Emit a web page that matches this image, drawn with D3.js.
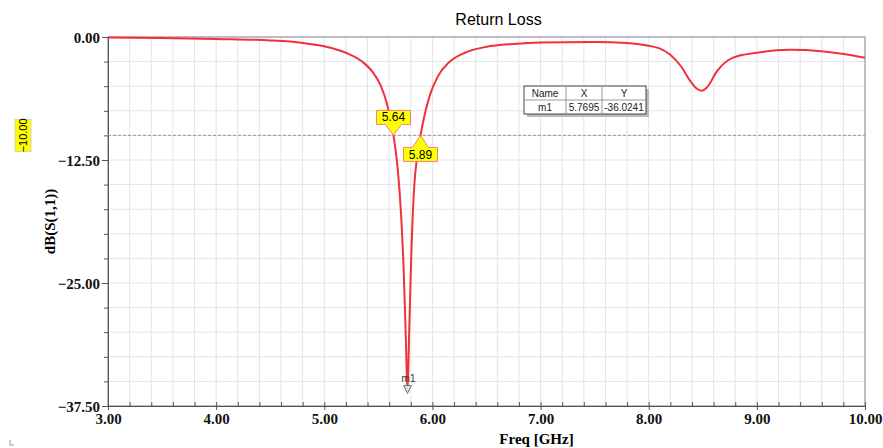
<!DOCTYPE html>
<html>
<head>
<meta charset="utf-8">
<script src="https://cdn.jsdelivr.net/npm/d3@7"></script>
<style>
  body { margin: 0; background: #fff; }
  svg { display: block; }
</style>
</head>
<body>
<div id="chart"></div>
<script>
// S11 trace (GHz, dB)
const freq = [3.0, 3.5, 4.0, 4.5, 4.8, 5.0, 5.2, 5.35, 5.45, 5.52, 5.58, 5.64, 5.68, 5.71, 5.735, 5.755, 5.7695,
  5.785, 5.805, 5.83, 5.86, 5.89, 5.93, 5.98, 6.05, 6.15, 6.3, 6.5, 6.75, 7.0, 7.5, 7.8, 8.0, 8.1, 8.2, 8.3, 8.38,
  8.44, 8.49, 8.54, 8.63, 8.78, 9.0, 9.3, 9.6, 10.0];
const s11 = [-0.05, -0.1, -0.2, -0.35, -0.6, -0.95, -1.6, -2.5, -3.6, -4.9, -6.8, -10.0, -13.5, -18.0, -24.0, -31.0, -36.02,
  -30.0, -22.0, -15.5, -12.0, -10.0, -7.8, -5.8, -4.0, -2.6, -1.6, -1.0, -0.7, -0.55, -0.5, -0.6, -0.9, -1.15, -1.8, -3.0, -4.4,
  -5.2, -5.45, -5.1, -3.5, -2.1, -1.6, -1.3, -1.45, -2.1];
const xTicks = [3, 4, 5, 6, 7, 8, 9, 10];
const yTicks = [0, -12.5, -25, -37.5];
const markerFreq = [5.64, 5.89];
const markerLevel = -10;
const m1 = { name: "m1", x: 5.7695, y: -36.0241 };

const W = 883, H = 448;
const margin = { left: 108, right: 18, top: 37, bottom: 42 };

const svg = d3.select("#chart").append("svg")
  .attr("width", W).attr("height", H);

const x = d3.scaleLinear().domain([3, 10]).range([margin.left, W - margin.right]);
const y = d3.scaleLinear().domain([-37.5, 0]).range([H - margin.bottom, margin.top]);

const serif = "'Liberation Serif', 'Times New Roman', serif";
const sans = "'Liberation Sans', Arial, sans-serif";

// grid
const xMinor = d3.range(3, 10.001, 0.2);
const yMinor = d3.range(-37.5, 0.001, 2.5);
svg.append("g").selectAll("line").data(xMinor).join("line")
  .attr("x1", d => x(d)).attr("x2", d => x(d))
  .attr("y1", y(0)).attr("y2", y(-37.5))
  .attr("stroke", "#e4e4e4").attr("stroke-width", 1);
svg.append("g").selectAll("line").data(yMinor).join("line")
  .attr("x1", x(3)).attr("x2", x(10))
  .attr("y1", d => y(d)).attr("y2", d => y(d))
  .attr("stroke", "#e4e4e4").attr("stroke-width", 1);

// frame
svg.append("rect")
  .attr("x", x(3)).attr("y", y(0))
  .attr("width", x(10) - x(3)).attr("height", y(-37.5) - y(0))
  .attr("fill", "none").attr("stroke", "#8a8a8a").attr("stroke-width", 1);

// axes
const xAxis = svg.append("g")
  .attr("transform", `translate(0,${y(-37.5)})`)
  .call(d3.axisBottom(x).tickValues(xTicks).tickFormat(d3.format(".2f")).tickSize(4).tickPadding(3));
xAxis.selectAll("text").attr("font-family", serif).attr("font-weight", "bold").attr("font-size", 15).attr("fill", "#111");
svg.append("g").attr("transform", `translate(0,${y(-37.5)})`)
  .call(d3.axisBottom(x).tickValues(xMinor).tickFormat("").tickSize(-4))
  .call(g => g.select(".domain").remove());

const yAxis = svg.append("g")
  .attr("transform", `translate(${x(3)},0)`)
  .call(d3.axisLeft(y).tickValues(yTicks).tickFormat(d3.format(".2f")).tickSize(6).tickPadding(2));
yAxis.selectAll("text").attr("font-family", serif).attr("font-weight", "bold").attr("font-size", 15).attr("fill", "#111")
  .attr("dy", "0.35em");
svg.append("g").attr("transform", `translate(${x(3)},0)`)
  .call(d3.axisLeft(y).tickValues(yMinor).tickFormat("").tickSize(4))
  .call(g => g.select(".domain").remove());
svg.selectAll(".domain, .tick line").attr("stroke", "#555");

// axis titles
svg.append("text")
  .attr("x", (x(3) + x(10)) / 2 + 50).attr("y", H - 4)
  .attr("text-anchor", "middle")
  .attr("font-family", serif).attr("font-weight", "bold").attr("font-size", 15)
  .text("Freq [GHz]");
svg.append("text")
  .attr("transform", `translate(55,${y(-18.75)}) rotate(-90)`)
  .attr("text-anchor", "middle")
  .attr("font-family", serif).attr("font-weight", "bold").attr("font-size", 15)
  .text("dB(S(1,1))");
svg.append("text")
  .attr("x", (x(3) + x(10)) / 2 + 12).attr("y", 25)
  .attr("text-anchor", "middle")
  .attr("font-family", sans).attr("font-size", 16)
  .text("Return Loss");

// -10 dB reference line
svg.append("line")
  .attr("x1", x(3)).attr("x2", x(10))
  .attr("y1", y(markerLevel)).attr("y2", y(markerLevel))
  .attr("stroke", "#999").attr("stroke-dasharray", "3,2");
const refLbl = svg.append("g").attr("transform", `translate(23,${y(markerLevel)}) rotate(-90)`);
refLbl.append("rect").attr("x", -16).attr("y", -8).attr("width", 32).attr("height", 16)
  .attr("fill", "#ffff00").attr("stroke", "#d8d8a0");
refLbl.append("text").attr("text-anchor", "middle").attr("dy", "0.35em")
  .attr("font-family", sans).attr("font-size", 11).text(d3.format(".2f")(markerLevel));

// trace
const pts = freq.map((f, i) => [f, s11[i]]);
svg.append("path")
  .datum(pts)
  .attr("fill", "none")
  .attr("stroke", "#f0313a")
  .attr("stroke-width", 2)
  .attr("d", d3.line().x(d => x(d[0])).y(d => y(d[1])).curve(d3.curveMonotoneX));

// marker flags at -10 dB
markerFreq.forEach((f, i) => {
  const px = x(f), py = y(markerLevel);
  const g = svg.append("g");
  if (i === 0) {
    g.append("path")
      .attr("d", `M${px - 17},${py - 25} H${px + 17} V${py - 11} H${px + 8} L${px},${py} L${px - 8},${py - 11} H${px - 17} Z`)
      .attr("fill", "#ffff00").attr("stroke", "#f08080").attr("stroke-width", 1);
    g.append("text").attr("x", px).attr("y", py - 14).attr("text-anchor", "middle")
      .attr("font-family", sans).attr("font-size", 12).text(f.toFixed(2));
  } else {
    g.append("path")
      .attr("d", `M${px - 17},${py + 26} H${px + 17} V${py + 12} H${px + 8} L${px},${py} L${px - 8},${py + 12} H${px - 17} Z`)
      .attr("fill", "#ffff00").attr("stroke", "#f08080").attr("stroke-width", 1);
    g.append("text").attr("x", px).attr("y", py + 24).attr("text-anchor", "middle")
      .attr("font-family", sans).attr("font-size", 12).text(f.toFixed(2));
  }
});

// m1 marker
const mx = x(m1.x), my = y(m1.y);
svg.append("path")
  .attr("d", `M${mx - 4},${my - 6} H${mx + 4} L${mx},${my + 2} Z`)
  .attr("fill", "#ddd").attr("stroke", "#777");
svg.append("text").attr("x", mx + 1).attr("y", my - 9).attr("text-anchor", "middle")
  .attr("font-family", sans).attr("font-size", 10).attr("fill", "#333").text(m1.name);

// marker table
const tbl = svg.append("g").attr("transform", "translate(524,86)");
const colX = [0, 42, 78, 122];
const rowH = 14;
tbl.append("rect").attr("x", 3).attr("y", 3).attr("width", colX[3]).attr("height", rowH * 2)
  .attr("fill", "#bbb");
tbl.append("rect").attr("width", colX[3]).attr("height", rowH * 2)
  .attr("fill", "#fff").attr("stroke", "#444");
tbl.append("line").attr("x1", 0).attr("x2", colX[3]).attr("y1", rowH).attr("y2", rowH).attr("stroke", "#999");
[1, 2].forEach(c => tbl.append("line").attr("x1", colX[c]).attr("x2", colX[c])
  .attr("y1", 0).attr("y2", rowH * 2).attr("stroke", "#999"));
const head = ["Name", "X", "Y"];
const row = [m1.name, m1.x.toFixed(4), m1.y.toFixed(4)];
[head, row].forEach((r, ri) => r.forEach((t, ci) => {
  tbl.append("text")
    .attr("x", (colX[ci] + colX[ci + 1]) / 2).attr("y", rowH * ri + 11)
    .attr("text-anchor", "middle").attr("font-family", sans).attr("font-size", 10).attr("fill", "#222")
    .text(t);
}));

// tiny corner mark
svg.append("path").attr("d", "M10,440 V445 H14").attr("fill", "none").attr("stroke", "#999");
</script>
</body>
</html>
